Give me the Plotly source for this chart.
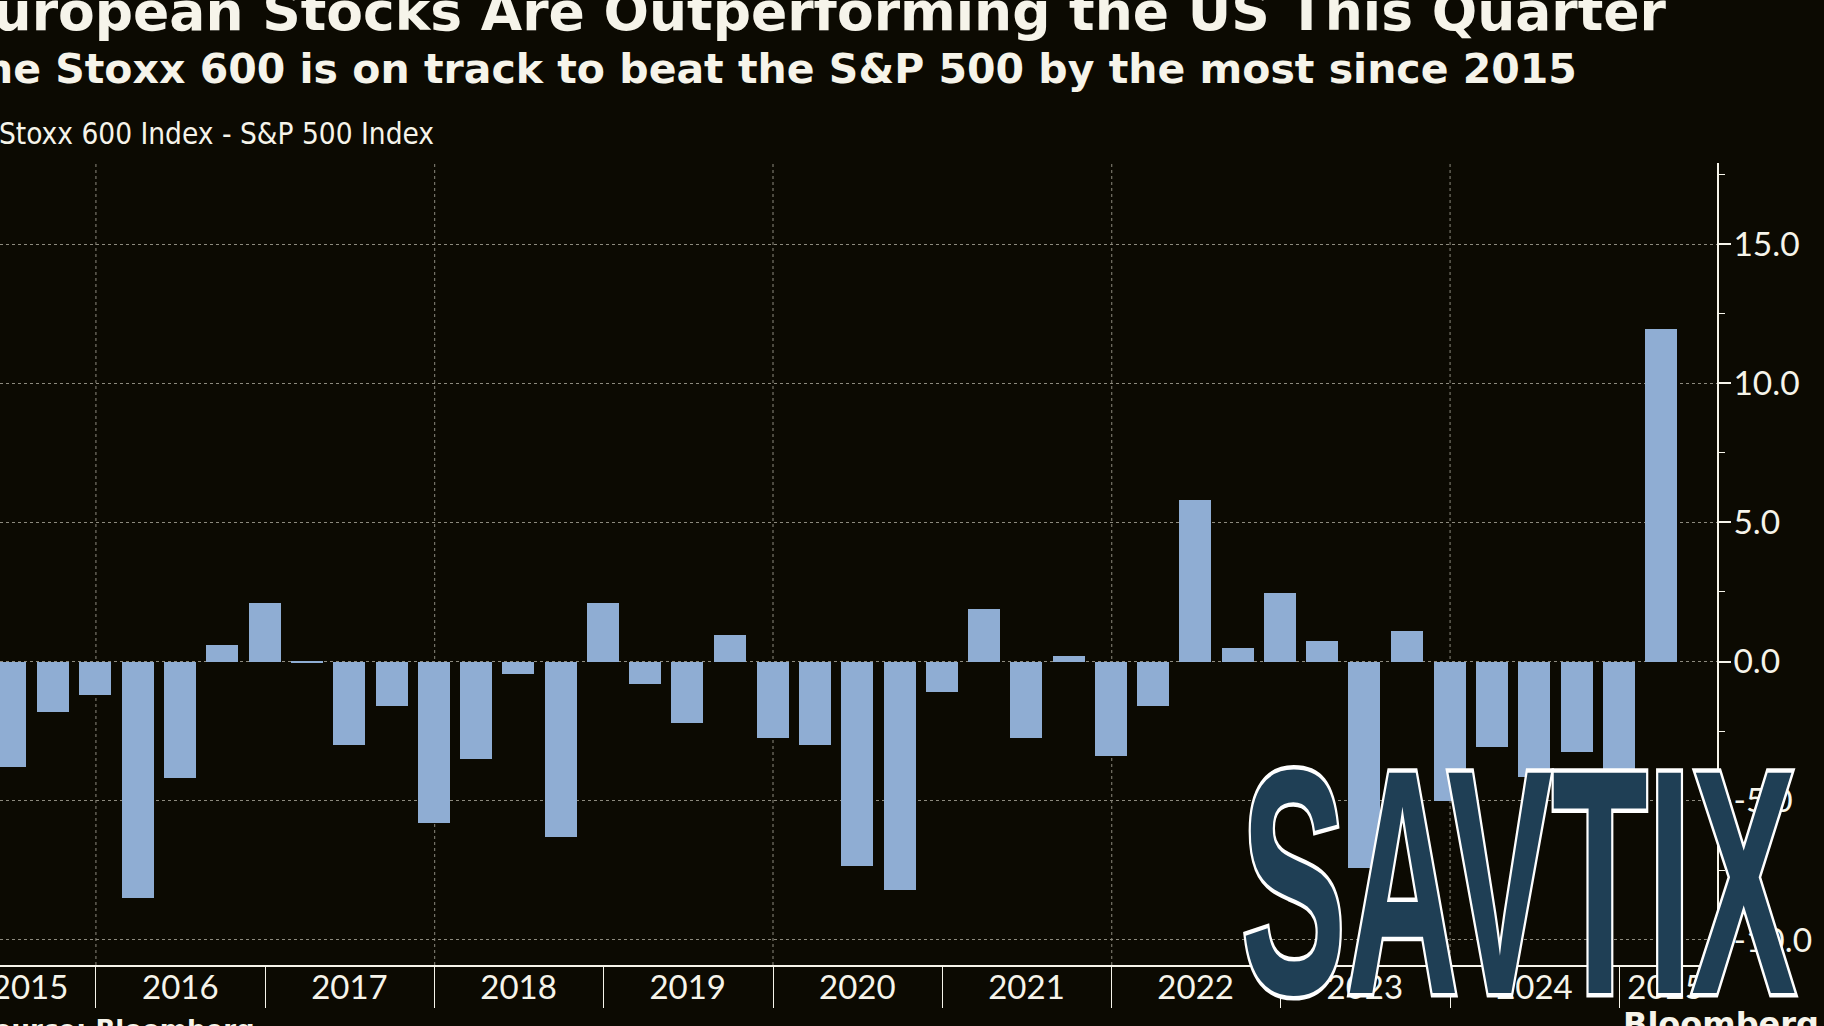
import plotly.graph_objects as go

quarter_ends = [
    "2015-06-30", "2015-09-30", "2015-12-31",
    "2016-03-31", "2016-06-30", "2016-09-30", "2016-12-31",
    "2017-03-31", "2017-06-30", "2017-09-30", "2017-12-31",
    "2018-03-31", "2018-06-30", "2018-09-30", "2018-12-31",
    "2019-03-31", "2019-06-30", "2019-09-30", "2019-12-31",
    "2020-03-31", "2020-06-30", "2020-09-30", "2020-12-31",
    "2021-03-31", "2021-06-30", "2021-09-30", "2021-12-31",
    "2022-03-31", "2022-06-30", "2022-09-30", "2022-12-31",
    "2023-03-31", "2023-06-30", "2023-09-30", "2023-12-31",
    "2024-03-31", "2024-06-30", "2024-09-30", "2024-12-31",
    "2025-03-31",
]
spread = [
    -3.8, -1.8, -1.2,
    -8.5, -4.2, 0.6, 2.1,
    -0.05, -3.0, -1.6, -5.8,
    -3.5, -0.45, -6.3, 2.1,
    -0.8, -2.2, 0.95, -2.75,
    -3.0, -7.35, -8.2, -1.1,
    1.9, -2.75, 0.2, -3.4,
    -1.6, 5.8, 0.5, 2.45,
    0.75, -7.4, 1.1, -5.0,
    -3.07, -4.13, -3.25, -4.4,
    11.95,
]
year_labels = ["2015", "2016", "2017", "2018", "2019", "2020", "2021", "2022", "2023", "2024", "2025"]
year_label_dates = ["2015-08-12", "2016-07-01", "2017-07-01", "2018-07-01", "2019-07-01", "2020-07-01",
                    "2021-07-01", "2022-07-01", "2023-07-01", "2024-07-01", "2025-04-10"]
year_starts = ["2016-01-01", "2017-01-01", "2018-01-01", "2019-01-01", "2020-01-01",
               "2021-01-01", "2022-01-01", "2023-01-01", "2024-01-01", "2025-01-01"]
grid_years = ["2016-01-01", "2018-01-01", "2020-01-01", "2022-01-01", "2024-01-01"]
y_ticks = [-10, -5, 0, 5, 10, 15]
y_labels = ["-10.0", "-5.0", "0.0", "5.0", "10.0", "15.0"]
y_minor = [-7.5, -2.5, 2.5, 7.5, 12.5, 17.5]

BG = "#0c0a02"
FG = "#f6f4ea"
GRID = "#8d8a7e"
TICK_FONT = "Lato"

fig = go.Figure(go.Bar(x=quarter_ends, y=spread, marker=dict(color="#8fadd3", line_width=0),
                       width=[1000 * 3600 * 24 * 69] * len(spread)))

for d in grid_years:
    fig.add_shape(type="line", xref="x", yref="paper", x0=d, x1=d, y0=0, y1=1, layer="below",
                  line=dict(color=GRID, width=1, dash="dot"))

W, H = 1824, 1026
L, R, T, B = 0, 1717, 163, 965
px = lambda v: (v - L) / (R - L)
py = lambda v: (B - v) / (B - T)

def note(text, xr, yb, size, family, bold=False, anchor="right"):
    fig.add_annotation(text=f"<b>{text}</b>" if bold else text, xref="paper", yref="paper", x=px(xr), y=py(yb),
                       xanchor=anchor, yanchor="bottom", showarrow=False,
                       font=dict(size=size, family=family, color=FG), borderpad=0)

note("European Stocks Are Outperforming the US This Quarter", 1668, 44, 53.5, "DejaVu Sans", True)
note("The Stoxx 600 is on track to beat the S&amp;P 500 by the most since 2015", 1578, 94, 41, "DejaVu Sans", True)
note("Stoxx 600 Index - S&amp;P 500 Index", 435, 152, 29.5, "DejaVu Sans Condensed")
note("Source: Bloomberg", 256, 1046, 26, "DejaVu Sans", True)
note("Bloomberg", 1820, 1044, 32, "DejaVu Sans", True)
fig.add_annotation(text="SAVTIX", xref="paper", yref="paper", x=px(1518), y=py(1063), xanchor="center", yanchor="bottom",
                   showarrow=False, font=dict(size=320, family="Liberation Sans", color="#1f3f55"), name="mark")

fig.update_layout(
    width=W, height=H, paper_bgcolor=BG, plot_bgcolor=BG, showlegend=False, bargap=0,
    margin=dict(l=L, r=W - R, t=T, b=H - B, pad=0, autoexpand=False), font=dict(family=TICK_FONT, color=FG),
    xaxis=dict(type="date", range=["2015-06-08", "2025-07-30"], tickmode="array", tickvals=year_label_dates,
               ticktext=year_labels, ticks="", showgrid=False, zeroline=False, showline=True, linecolor=FG,
               linewidth=1.5, tickfont=dict(size=33, family=TICK_FONT, color=FG), ticklabeloverflow="allow",
               ticklabelstandoff=-7, automargin=False,
               minor=dict(tickmode="array", tickvals=year_starts, ticks="outside", ticklen=41,
                          tickcolor=FG, tickwidth=1, showgrid=False)),
    yaxis=dict(side="right", range=[-10.90, 17.91], tickmode="array", tickvals=y_ticks, ticktext=y_labels,
               ticks="outside", ticklen=12, tickwidth=1.5, tickcolor=FG, showline=True, linecolor=FG, linewidth=1.5,
               showgrid=True, gridcolor=GRID, griddash="dot", gridwidth=1, zeroline=False, ticklabelstandoff=-4,
               automargin=False, tickfont=dict(size=33.5, family=TICK_FONT, color=FG),
               minor=dict(tickmode="array", tickvals=y_minor, ticks="outside", ticklen=6, tickwidth=1,
                          tickcolor=FG, showgrid=False)),
)

post = """
document.body.style.margin='0';document.body.style.overflow='hidden';
document.querySelectorAll('.annotation-text').forEach(function(t){
  if(t.textContent==='SAVTIX'){
    t.style.fontWeight='bold';t.style.stroke='#ffffff';t.style.strokeWidth='9px';t.style.paintOrder='stroke';
    var b=t.getBBox();var cx=b.x+b.width/2;var cy=b.y+b.height/2;
    t.setAttribute('transform','translate('+cx+','+cy+') scale(0.49,1) translate('+(-cx)+','+(-cy)+')');
  }
});
"""
fig.write_html("out.html", post_script=post, config={"displayModeBar": False})
